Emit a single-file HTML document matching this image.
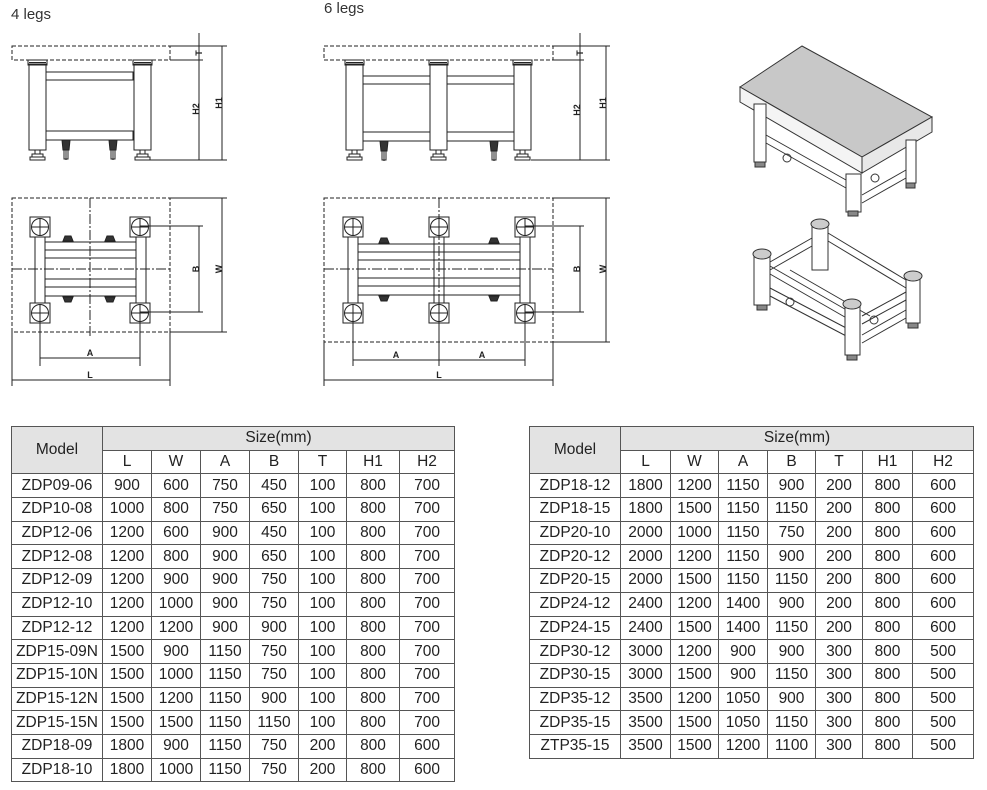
<!DOCTYPE html>
<html><head><meta charset="utf-8"><style>
body{margin:0;background:#fff;width:987px;height:790px;overflow:hidden;position:relative;font-family:"Liberation Sans",sans-serif;color:#222}
table{position:absolute;border-collapse:collapse;table-layout:fixed;font-size:15.5px}
td{border:1px solid #555;text-align:center;padding:0;height:22.7px;line-height:22px;white-space:nowrap;overflow:hidden}
td.h{background:#e3e3e3}
.lbl{position:absolute;font-size:15px;color:#333}
</style></head><body>
<div class="lbl" style="left:11px;top:6px">4 legs</div>
<div class="lbl" style="left:324px;top:0px">6 legs</div>
<svg width="987" height="420" style="position:absolute;left:0;top:0" fill="none" stroke="#222" stroke-width="1">
<defs>
<g id="sq"><rect x="-10" y="-10" width="20" height="20"/><circle r="8.5"/><line x1="-8.5" x2="8.5"/><line y1="-8.5" y2="8.5"/></g>
<g id="leg"><rect x="0" y="4" width="17" height="86" fill="#fff"/><rect x="-1" y="0" width="19" height="5"/><line x1="0" y1="2.5" x2="17" y2="2.5"/><rect x="6" y="90" width="5" height="4"/><rect x="3" y="94" width="11" height="3"/><rect x="1" y="97" width="15" height="3"/></g>
<g id="cas"><path d="M-4 0h8l-1 10h-6z" fill="#333"/><path d="M-2 10h4v9h-4z"/><line x1="0" y1="10" x2="0" y2="20"/></g>
<g id="wh1"><path d="M-5 5l2-5h6l2 5z" fill="#333"/></g>
<g id="wh2"><path d="M-5 0h10l-2 5h-6z" fill="#333"/></g>
</defs>
<g stroke-dasharray="4,2"><rect x="12" y="46" width="158" height="14"/></g>
<line x1="170" y1="46" x2="227" y2="46"/><line x1="170" y1="60" x2="203" y2="60"/>
<rect x="46" y="72" width="87" height="8"/><rect x="46" y="131" width="87" height="9"/>
<use href="#leg" x="29" y="60"/><use href="#leg" x="134" y="60"/>
<use href="#cas" x="66" y="140"/><use href="#cas" x="113" y="140"/>
<line x1="150" y1="160" x2="227" y2="160"/>
<line x1="199" y1="33" x2="199" y2="160"/><line x1="222" y1="46" x2="222" y2="160"/>
<g stroke-dasharray="4,2"><rect x="12" y="198" width="158" height="134"/></g>
<line x1="170" y1="198" x2="227" y2="198"/><line x1="170" y1="332" x2="227" y2="332"/>
<g stroke-dasharray="10,2,2,2"><line x1="90" y1="198" x2="90" y2="338"/><line x1="12" y1="269" x2="170" y2="269"/></g>
<rect x="35" y="237" width="10" height="66"/><rect x="136" y="237" width="10" height="66"/>
<g><line x1="45" y1="242" x2="136" y2="242"/><line x1="45" y1="250" x2="136" y2="250"/><line x1="45" y1="258" x2="136" y2="258"/><line x1="45" y1="279" x2="136" y2="279"/><line x1="45" y1="287" x2="136" y2="287"/><line x1="45" y1="296" x2="136" y2="296"/></g>
<use href="#wh1" x="68" y="236"/><use href="#wh1" x="110" y="236"/><use href="#wh2" x="68" y="297"/><use href="#wh2" x="110" y="297"/>
<use href="#sq" x="40" y="227"/><use href="#sq" x="140" y="227"/><use href="#sq" x="40" y="313"/><use href="#sq" x="140" y="313"/>
<line x1="140" y1="226" x2="203" y2="226"/><line x1="140" y1="312" x2="203" y2="312"/>
<line x1="199" y1="226" x2="199" y2="312"/><line x1="222" y1="198" x2="222" y2="332"/>
<line x1="40" y1="313" x2="40" y2="366"/><line x1="140" y1="313" x2="140" y2="366"/><line x1="40" y1="358" x2="140" y2="358"/>
<line x1="12" y1="332" x2="12" y2="386"/><line x1="170" y1="332" x2="170" y2="386"/><line x1="12" y1="380" x2="170" y2="380"/>
<g stroke-dasharray="4,2"><rect x="324" y="46" width="229" height="14"/></g>
<line x1="553" y1="46" x2="610" y2="46"/><line x1="553" y1="60" x2="584" y2="60"/>
<rect x="363" y="76" width="67" height="8"/><rect x="447" y="76" width="67" height="8"/>
<rect x="363" y="132" width="67" height="9"/><rect x="447" y="132" width="67" height="9"/>
<use href="#leg" x="346" y="60"/><use href="#leg" x="430" y="60"/><use href="#leg" x="514" y="60"/>
<use href="#cas" x="384" y="141"/><use href="#cas" x="494" y="141"/>
<line x1="531" y1="160" x2="610" y2="160"/>
<line x1="580" y1="33" x2="580" y2="160"/><line x1="606" y1="46" x2="606" y2="160"/>
<g stroke-dasharray="4,2"><rect x="324" y="198" width="229" height="144"/></g>
<line x1="553" y1="198" x2="610" y2="198"/><line x1="553" y1="342" x2="610" y2="342"/>
<g stroke-dasharray="10,2,2,2"><line x1="439" y1="198" x2="439" y2="348"/><line x1="324" y1="269" x2="553" y2="269"/></g>
<rect x="348" y="237" width="10" height="66"/><rect x="434" y="237" width="10" height="66"/><rect x="520" y="237" width="10" height="66"/>
<g><line x1="358" y1="244" x2="520" y2="244"/><line x1="358" y1="252" x2="520" y2="252"/><line x1="358" y1="260" x2="520" y2="260"/><line x1="358" y1="278" x2="520" y2="278"/><line x1="358" y1="286" x2="520" y2="286"/><line x1="358" y1="295" x2="520" y2="295"/></g>
<use href="#wh1" x="384" y="238"/><use href="#wh1" x="494" y="238"/><use href="#wh2" x="384" y="296"/><use href="#wh2" x="494" y="296"/>
<use href="#sq" x="353" y="227"/><use href="#sq" x="439" y="227"/><use href="#sq" x="525" y="227"/>
<use href="#sq" x="353" y="313"/><use href="#sq" x="439" y="313"/><use href="#sq" x="525" y="313"/>
<line x1="525" y1="226" x2="584" y2="226"/><line x1="525" y1="312" x2="584" y2="312"/>
<line x1="580" y1="226" x2="580" y2="312"/><line x1="606" y1="198" x2="606" y2="342"/>
<line x1="353" y1="313" x2="353" y2="366"/><line x1="439" y1="313" x2="439" y2="366"/><line x1="525" y1="313" x2="525" y2="366"/><line x1="353" y1="360" x2="525" y2="360"/>
<line x1="324" y1="342" x2="324" y2="386"/><line x1="553" y1="342" x2="553" y2="386"/><line x1="324" y1="380" x2="553" y2="380"/>
<g fill="#222" stroke="none" font-family="Liberation Sans" font-weight="bold" font-size="9" text-anchor="middle">
<text transform="translate(199,53) rotate(-90)" dy="3">T</text>
<text transform="translate(196,109) rotate(-90)" dy="3">H2</text>
<text transform="translate(219,103) rotate(-90)" dy="3">H1</text>
<text transform="translate(196,269) rotate(-90)" dy="3">B</text>
<text transform="translate(219,269) rotate(-90)" dy="3">W</text>
<text x="90" y="356">A</text><text x="90" y="378">L</text>
<text transform="translate(580,53) rotate(-90)" dy="3">T</text>
<text transform="translate(577,110) rotate(-90)" dy="3">H2</text>
<text transform="translate(603,103) rotate(-90)" dy="3">H1</text>
<text transform="translate(577,269) rotate(-90)" dy="3">B</text>
<text transform="translate(603,269) rotate(-90)" dy="3">W</text>
<text x="396" y="358">A</text><text x="482" y="358">A</text><text x="439" y="378">L</text>
</g>
<g stroke="#333">
<path d="M740 87L802 46L932 117L862 157Z" fill="#c8c8c8"/>
<path d="M740 87L862 157L862 173L740 102Z" fill="#f4f4f4"/>
<path d="M862 157L932 117L932 132L862 173Z" fill="#e8e8e8"/>
<rect x="754" y="104" width="12" height="58" fill="#fff"/><rect x="755" y="162" width="10" height="5" fill="#888"/>
<rect x="846" y="174" width="15" height="38" fill="#fff"/><rect x="848" y="211" width="10" height="5" fill="#888"/>
<rect x="906" y="140" width="10" height="43" fill="#fff"/><rect x="906" y="183" width="9" height="5" fill="#888"/>
<path d="M766 135L846 180M766 143L846 188M862 195L906 170M862 203L906 178"/>
<circle cx="787" cy="158" r="4"/><circle cx="875" cy="178" r="4"/>
</g>
<g stroke="#333">
<rect x="812" y="225" width="16" height="45" fill="#fff"/><ellipse cx="820" cy="224" rx="9" ry="5" fill="#ccc"/>
<path d="M770 262L812 238M770 270L812 246M828 233L906 280M828 241L906 288M770 266L850 312M770 274L850 320M770 288L850 330M770 296L850 338M862 316L906 292M862 324L906 300M862 335L906 310M862 343L906 318M790 270L870 316"/>
<rect x="754" y="255" width="16" height="50" fill="#fff"/><ellipse cx="762" cy="254" rx="9" ry="5" fill="#ccc"/><rect x="757" y="305" width="10" height="5" fill="#888"/>
<rect x="906" y="278" width="14" height="45" fill="#fff"/><ellipse cx="913" cy="276" rx="9" ry="5" fill="#ccc"/><rect x="908" y="323" width="10" height="5" fill="#888"/>
<rect x="845" y="305" width="15" height="50" fill="#fff"/><ellipse cx="852" cy="304" rx="9" ry="5" fill="#ccc"/><rect x="847" y="355" width="10" height="5" fill="#888"/>
<circle cx="790" cy="302" r="4"/><circle cx="874" cy="320" r="4"/>
</g>
</svg>
<table style="left:11px;top:426px;width:443px">
<colgroup><col style="width:91px"><col style="width:49px"><col style="width:49px"><col style="width:49px"><col style="width:49px"><col style="width:48px"><col style="width:53px"><col style="width:55px"></colgroup>
<tr><td class="h" rowspan="2">Model</td><td class="h" colspan="7">Size(mm)</td></tr>
<tr><td>L</td><td>W</td><td>A</td><td>B</td><td>T</td><td>H1</td><td>H2</td></tr>
<tr><td>ZDP09-06</td><td>900</td><td>600</td><td>750</td><td>450</td><td>100</td><td>800</td><td>700</td></tr>
<tr><td>ZDP10-08</td><td>1000</td><td>800</td><td>750</td><td>650</td><td>100</td><td>800</td><td>700</td></tr>
<tr><td>ZDP12-06</td><td>1200</td><td>600</td><td>900</td><td>450</td><td>100</td><td>800</td><td>700</td></tr>
<tr><td>ZDP12-08</td><td>1200</td><td>800</td><td>900</td><td>650</td><td>100</td><td>800</td><td>700</td></tr>
<tr><td>ZDP12-09</td><td>1200</td><td>900</td><td>900</td><td>750</td><td>100</td><td>800</td><td>700</td></tr>
<tr><td>ZDP12-10</td><td>1200</td><td>1000</td><td>900</td><td>750</td><td>100</td><td>800</td><td>700</td></tr>
<tr><td>ZDP12-12</td><td>1200</td><td>1200</td><td>900</td><td>900</td><td>100</td><td>800</td><td>700</td></tr>
<tr><td>ZDP15-09N</td><td>1500</td><td>900</td><td>1150</td><td>750</td><td>100</td><td>800</td><td>700</td></tr>
<tr><td>ZDP15-10N</td><td>1500</td><td>1000</td><td>1150</td><td>750</td><td>100</td><td>800</td><td>700</td></tr>
<tr><td>ZDP15-12N</td><td>1500</td><td>1200</td><td>1150</td><td>900</td><td>100</td><td>800</td><td>700</td></tr>
<tr><td>ZDP15-15N</td><td>1500</td><td>1500</td><td>1150</td><td>1150</td><td>100</td><td>800</td><td>700</td></tr>
<tr><td>ZDP18-09</td><td>1800</td><td>900</td><td>1150</td><td>750</td><td>200</td><td>800</td><td>600</td></tr>
<tr><td>ZDP18-10</td><td>1800</td><td>1000</td><td>1150</td><td>750</td><td>200</td><td>800</td><td>600</td></tr>
</table>
<table style="left:529px;top:426px;width:444px">
<colgroup><col style="width:91px"><col style="width:50px"><col style="width:48px"><col style="width:49px"><col style="width:48px"><col style="width:47px"><col style="width:50px"><col style="width:61px"></colgroup>
<tr><td class="h" rowspan="2">Model</td><td class="h" colspan="7">Size(mm)</td></tr>
<tr><td>L</td><td>W</td><td>A</td><td>B</td><td>T</td><td>H1</td><td>H2</td></tr>
<tr><td>ZDP18-12</td><td>1800</td><td>1200</td><td>1150</td><td>900</td><td>200</td><td>800</td><td>600</td></tr>
<tr><td>ZDP18-15</td><td>1800</td><td>1500</td><td>1150</td><td>1150</td><td>200</td><td>800</td><td>600</td></tr>
<tr><td>ZDP20-10</td><td>2000</td><td>1000</td><td>1150</td><td>750</td><td>200</td><td>800</td><td>600</td></tr>
<tr><td>ZDP20-12</td><td>2000</td><td>1200</td><td>1150</td><td>900</td><td>200</td><td>800</td><td>600</td></tr>
<tr><td>ZDP20-15</td><td>2000</td><td>1500</td><td>1150</td><td>1150</td><td>200</td><td>800</td><td>600</td></tr>
<tr><td>ZDP24-12</td><td>2400</td><td>1200</td><td>1400</td><td>900</td><td>200</td><td>800</td><td>600</td></tr>
<tr><td>ZDP24-15</td><td>2400</td><td>1500</td><td>1400</td><td>1150</td><td>200</td><td>800</td><td>600</td></tr>
<tr><td>ZDP30-12</td><td>3000</td><td>1200</td><td>900</td><td>900</td><td>300</td><td>800</td><td>500</td></tr>
<tr><td>ZDP30-15</td><td>3000</td><td>1500</td><td>900</td><td>1150</td><td>300</td><td>800</td><td>500</td></tr>
<tr><td>ZDP35-12</td><td>3500</td><td>1200</td><td>1050</td><td>900</td><td>300</td><td>800</td><td>500</td></tr>
<tr><td>ZDP35-15</td><td>3500</td><td>1500</td><td>1050</td><td>1150</td><td>300</td><td>800</td><td>500</td></tr>
<tr><td>ZTP35-15</td><td>3500</td><td>1500</td><td>1200</td><td>1100</td><td>300</td><td>800</td><td>500</td></tr>
</table>
</body></html>
